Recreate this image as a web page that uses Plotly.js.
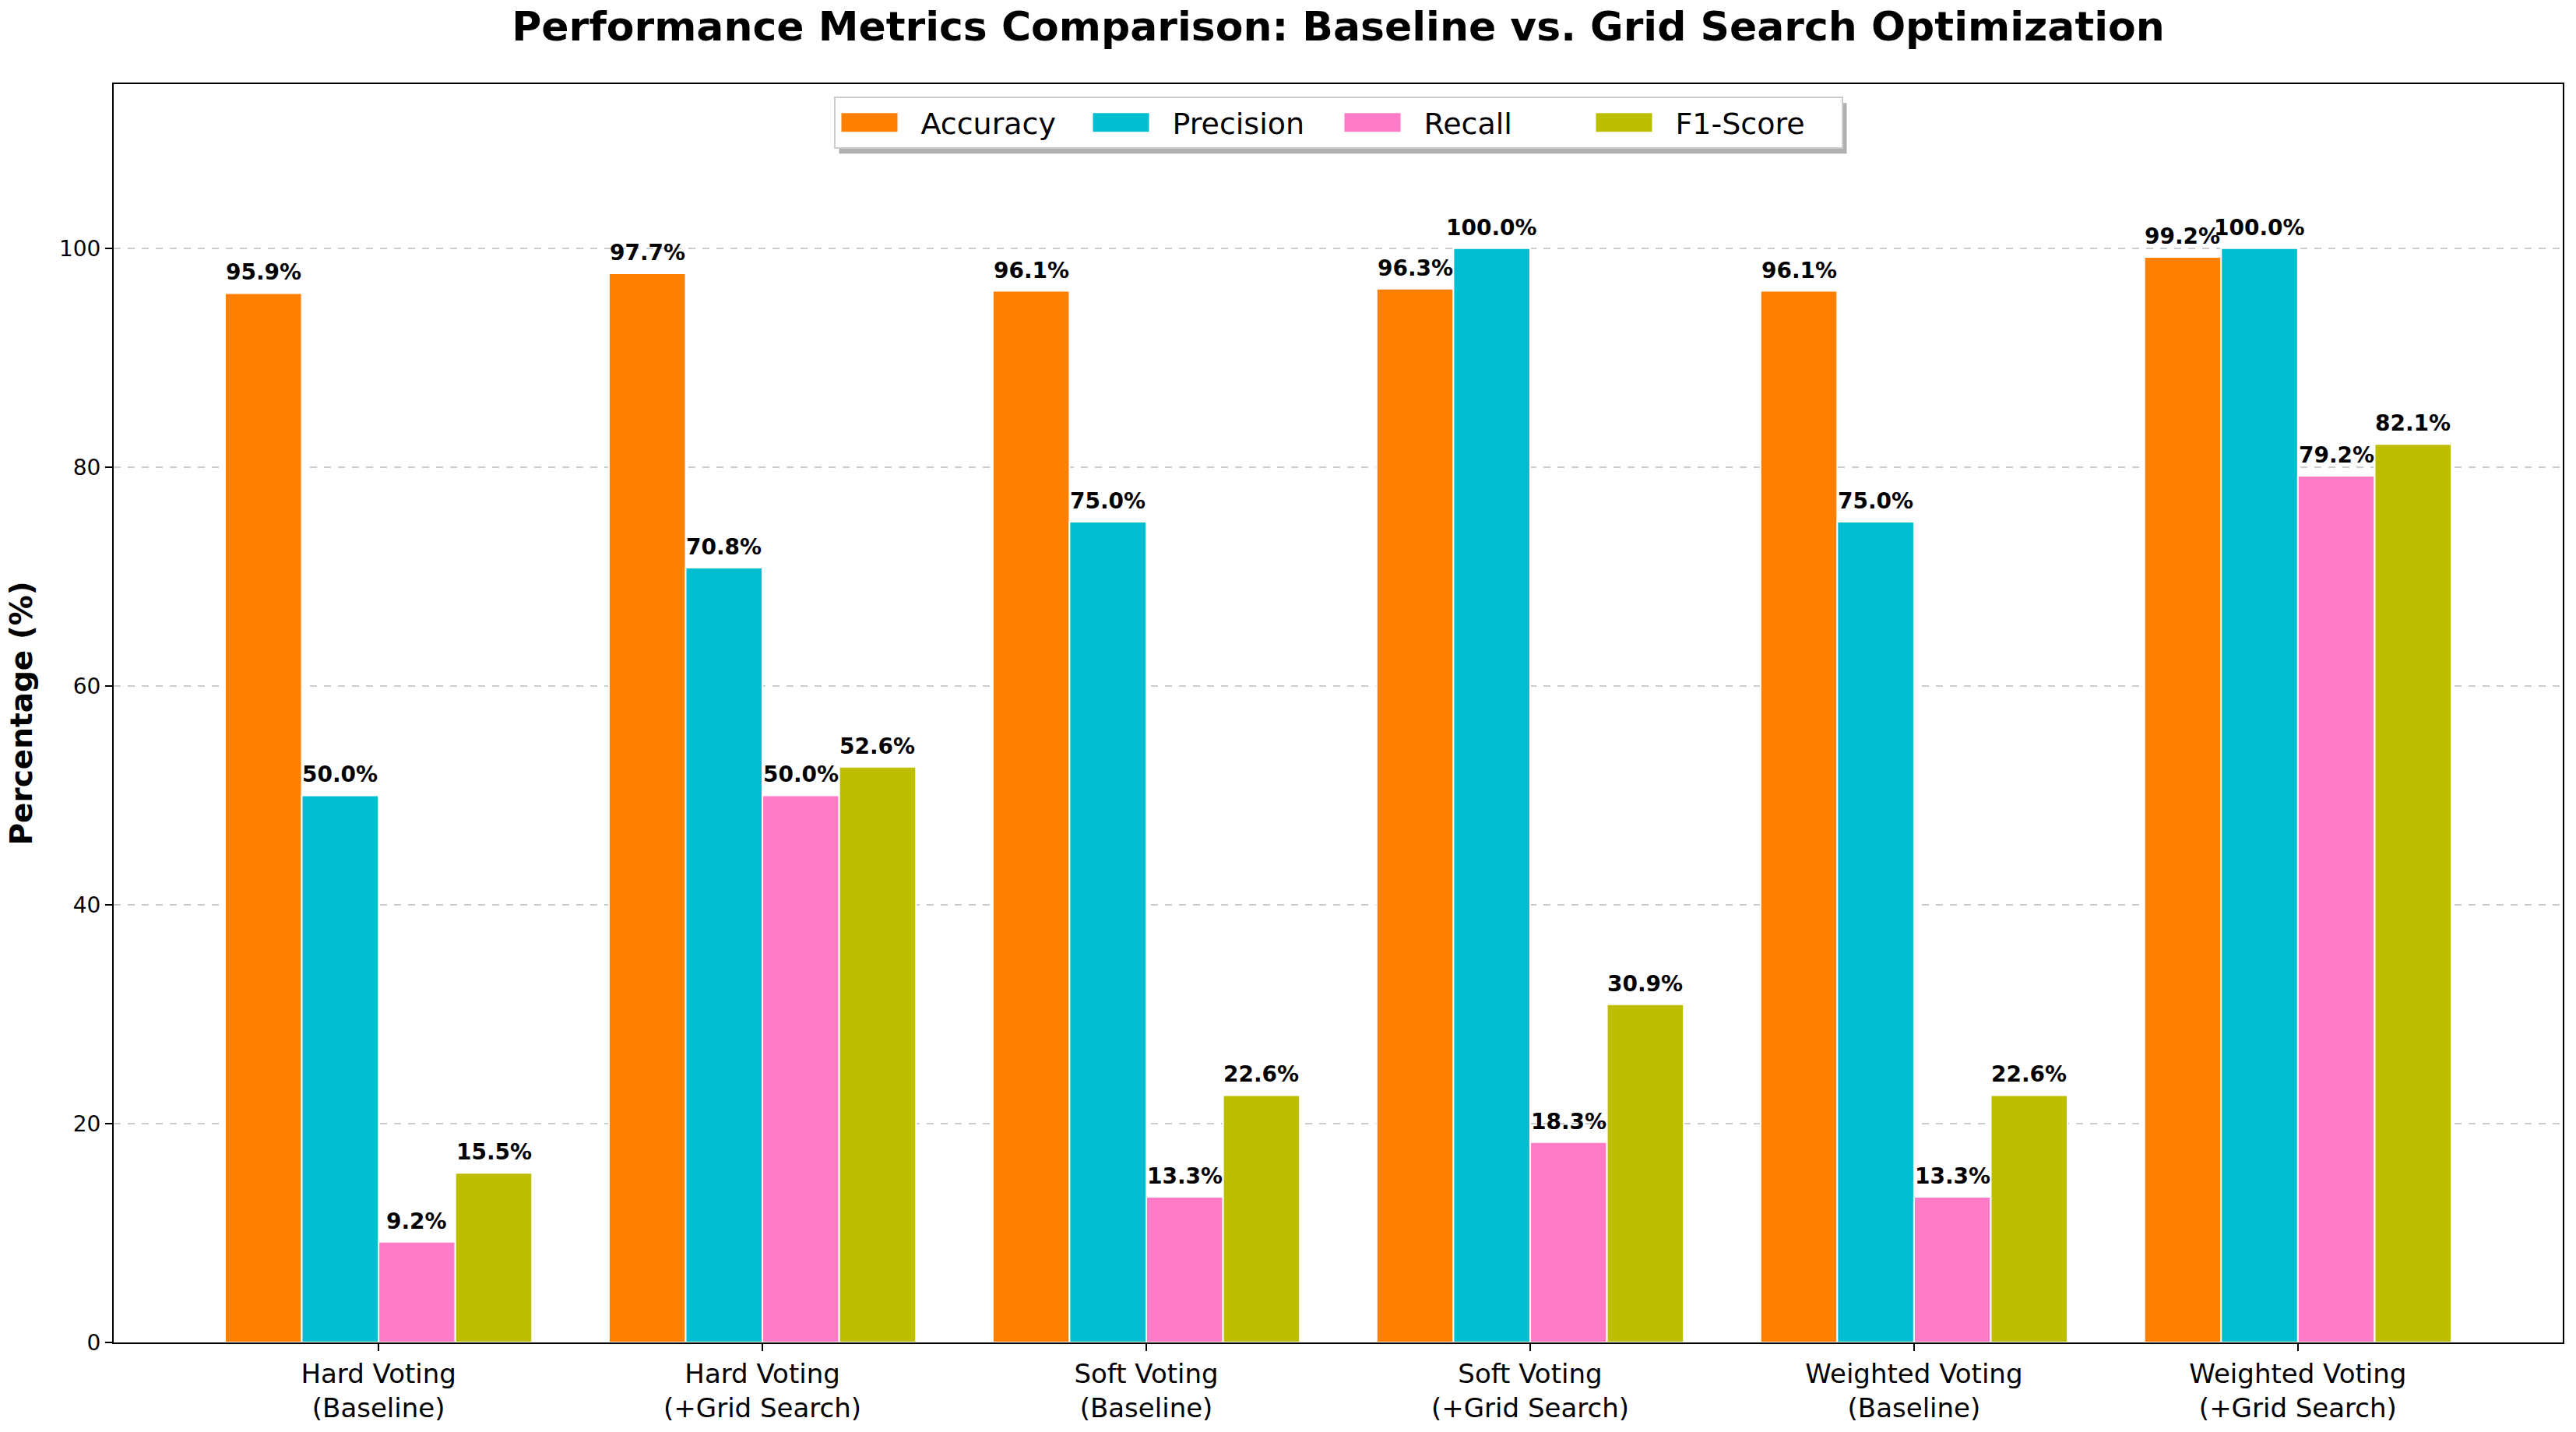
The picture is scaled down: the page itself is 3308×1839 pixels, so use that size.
<!DOCTYPE html>
<html>
<head>
<meta charset="utf-8">
<script src="https://cdn.plot.ly/plotly-3.0.1.min.js"></script>
<style>html,body{margin:0;padding:0;background:#fff;} #chart{width:3308px;height:1839px;}</style>
</head>
<body>
<div id="chart"></div>
<script>
const categories = [
  "Hard Voting<br>(Baseline)",
  "Hard Voting<br>(+Grid Search)",
  "Soft Voting<br>(Baseline)",
  "Soft Voting<br>(+Grid Search)",
  "Weighted Voting<br>(Baseline)",
  "Weighted Voting<br>(+Grid Search)"
];
const accuracy  = [95.9, 97.7, 96.1, 96.3, 96.1, 99.2];
const precision = [50.0, 70.8, 75.0, 100.0, 75.0, 100.0];
const recall    = [9.2, 50.0, 13.3, 18.3, 13.3, 79.2];
const f1score   = [15.5, 52.6, 22.6, 30.9, 22.6, 82.1];
const seriesNames = ["Accuracy", "Precision", "Recall", "F1-Score"];
const seriesColors = ["#FF7F00", "#00BED0", "#FF7BC8", "#BEBE00"];
const yTicks = [0, 20, 40, 60, 80, 100];

const seriesValues = [accuracy, precision, recall, f1score];
const xIdx = categories.map((c, i) => i);
const barWidth = 0.2;

const traces = seriesValues.map((vals, k) => ({
  type: "bar",
  name: seriesNames[k],
  x: xIdx,
  y: vals,
  width: barWidth,
  offset: (k - 2) * barWidth,
  marker: {color: seriesColors[k], line: {color: "#ffffff", width: 2}},
  showlegend: false,
  hoverinfo: "skip"
}));

// legend-only entries with wide rectangular swatches
seriesNames.forEach((name, k) => {
  traces.push({
    type: "scatter",
    mode: "lines",
    name: name,
    x: [null],
    y: [null],
    line: {color: seriesColors[k], width: 10},
    showlegend: true,
    hoverinfo: "skip"
  });
});

// value labels placed above each bar (derived from the same data arrays)
const annotations = [];
seriesValues.forEach((vals, k) => {
  vals.forEach((v, i) => {
    annotations.push({
      x: i + (k - 1.5) * barWidth,
      y: v,
      xref: "x", yref: "y",
      text: v.toFixed(1) + "%",
      showarrow: false,
      yanchor: "bottom",
      xanchor: "center",
      yshift: 8,
      font: {family: "DejaVu Sans", size: 28, color: "#000000", weight: 700}
    });
  });
});

const layout = {
  width: 3308,
  height: 1839,
  paper_bgcolor: "#ffffff",
  plot_bgcolor: "#ffffff",
  margin: {l: 146, r: 17, t: 108, b: 115},
  barmode: "overlay",
  font: {family: "DejaVu Sans", color: "#000000"},
  title: {
    text: "Performance Metrics Comparison: Baseline vs. Grid Search Optimization",
    font: {family: "DejaVu Sans", size: 52, color: "#000000", weight: 700},
    xref: "paper", x: 0.5, xanchor: "center",
    y: 1 - 34 / 1839, yanchor: "middle"
  },
  xaxis: {
    range: [-0.69, 5.69],
    tickmode: "array",
    tickvals: xIdx,
    ticktext: categories,
    ticks: "outside", ticklen: 9, tickwidth: 2, tickcolor: "#000",
    showline: true, linecolor: "#000", linewidth: 2, mirror: true,
    showgrid: false, zeroline: false,
    tickfont: {family: "DejaVu Sans", size: 34, color: "#000"}
  },
  yaxis: {
    range: [0, 115],
    tickmode: "array",
    tickvals: yTicks,
    ticktext: yTicks.map(String),
    ticks: "outside", ticklen: 9, tickwidth: 2, tickcolor: "#000",
    showline: true, linecolor: "#000", linewidth: 2, mirror: true,
    showgrid: true, gridcolor: "#cccccc", gridwidth: 2, griddash: "dash",
    zeroline: false,
    tickfont: {family: "DejaVu Sans", size: 28, color: "#000"},
    title: {text: "Percentage (%)", font: {family: "DejaVu Sans", size: 39, color: "#000", weight: 700}, standoff: 22}
  },
  legend: {
    orientation: "h",
    x: 0.5, xanchor: "center",
    y: 0.99, yanchor: "top",
    bgcolor: "#ffffff",
    bordercolor: "#cccccc",
    borderwidth: 2,
    font: {family: "DejaVu Sans", size: 38, color: "#000"},
    itemwidth: 100,
    entrywidth: 208,
    entrywidthmode: "pixels",
    traceorder: "normal"
  },
  annotations: annotations,
  showlegend: true
};

function widenSwatches(gd) {
  gd.querySelectorAll(".legend .traces").forEach(g => {
    g.querySelectorAll("path.js-line").forEach(p => {
      p.setAttribute("d", "M8,0h72");
      p.style.strokeWidth = "24px";
      p.style.strokeLinecap = "butt";
    });
  });
}

Plotly.newPlot("chart", traces, layout, {staticPlot: true, displayModeBar: false}).then(gd => {
  // add a soft drop shadow behind the legend box, like the reference
  const bg = gd.querySelector(".legend .bg");
  if (!bg) { widenSwatches(gd); return; }
  const r = bg.getBoundingClientRect();
  const c = gd.getBoundingClientRect();
  const fs = gd._fullLayout._size;
  const toX = px => (px - c.left - fs.l) / fs.w;
  const toY = py => 1 - (py - c.top - fs.t) / fs.h;
  return Plotly.relayout(gd, {shapes: [{
    type: "rect", xref: "paper", yref: "paper", layer: "above",
    x0: toX(r.left + 6), x1: toX(r.right + 6),
    y0: toY(r.bottom + 7), y1: toY(r.top + 7),
    fillcolor: "rgba(110,110,110,0.55)", line: {width: 0}
  }]}).then(() => widenSwatches(gd));
});
</script>
</body>
</html>
